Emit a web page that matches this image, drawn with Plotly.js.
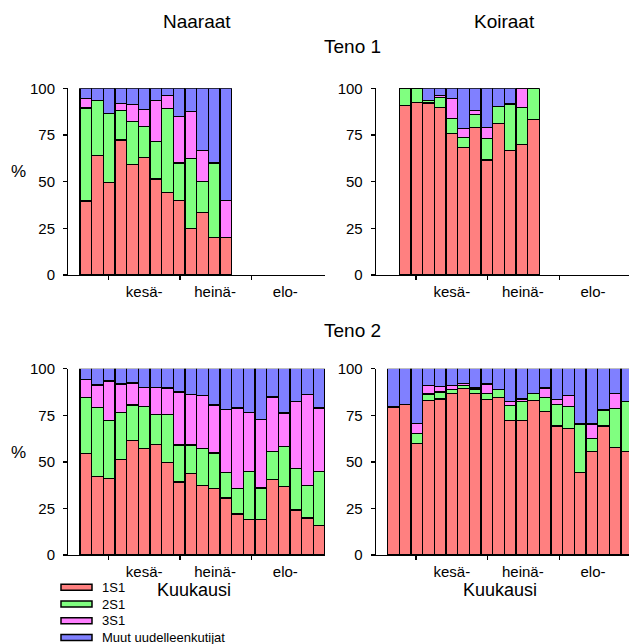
<!DOCTYPE html>
<html>
<head>
<meta charset="utf-8">
<script src="https://cdn.plot.ly/plotly-3.0.1.min.js"></script>
<style>
  html, body { margin: 0; padding: 0; background: #ffffff; }
  #chart { width: 629px; height: 644px; }
</style>
</head>
<body>
<div id="chart"></div>
<script>
// Five-day sampling periods (period number = position on the time axis)
const periodsTeno1Naaraat = [1, 2, 3, 4, 5, 6, 7, 8, 9, 10, 11, 12, 13];
const periodsTeno1Koiraat = [2, 3, 4, 5, 6, 7, 8, 9, 10, 11, 12, 13];
const periodsTeno2 = [1, 2, 3, 4, 5, 6, 7, 8, 9, 10, 11, 12, 13, 14, 15, 16, 17, 18, 19, 20, 21];

// Month boundaries (tick marks) and month labels (placed mid-month)
const monthStarts = [2.92, 9.06, 15.21];
const monthMids = [6.0, 12.08, 18.1];
const monthLabels = ['kesä-', 'heinä-', 'elo-'];

const seriesNames = ['1S1', '2S1', '3S1', 'Muut uudelleenkutijat'];
const seriesColors = ['#ff8080', '#80ff80', '#ff80ff', '#8080ff'];

// Teno 1, naaraat (%)
const t1n_1S1  = [39.6, 64.1, 49.6, 72.3, 59.3, 63.0, 51.4, 44.3, 40.0, 25.0, 33.3, 20.0, 20.0];
const t1n_2S1  = [49.9, 29.5, 37.0, 15.6, 22.8, 16.5, 20.2, 45.0, 20.0, 37.5, 16.7, 40.0, 0];
const t1n_3S1  = [5.1, 0, 0, 4.1, 9.3, 9.3, 22.0, 6.9, 25.0, 25.0, 16.7, 0, 20.0];
const t1n_muut = [5.4, 6.4, 13.4, 8.0, 8.6, 11.2, 6.4, 3.8, 15.0, 12.5, 33.3, 40.0, 60.0];

// Teno 1, koiraat (%)
const t1k_1S1  = [90.6, 92.6, 92.1, 89.8, 76.0, 68.5, 78.9, 61.6, 81.0, 66.5, 69.7, 83.2];
const t1k_2S1  = [9.4, 7.4, 1.4, 5.2, 8.0, 5.1, 6.9, 11.7, 9.1, 25.1, 19.9, 16.8];
const t1k_3S1  = [0, 0, 0, 1.1, 10.6, 4.7, 2.2, 5.9, 0, 0, 10.4, 0];
const t1k_muut = [0, 0, 6.5, 3.9, 5.4, 21.7, 12.0, 20.8, 9.9, 8.4, 0, 0];

// Teno 2, naaraat (%)
const t2n_1S1  = [54.3, 42.3, 41.2, 51.4, 61.3, 57.3, 59.5, 49.6, 39.2, 43.9, 37.5, 35.8, 30.6, 22.0, 19.2, 19.2, 40.7, 36.6, 24.2, 19.9, 15.9];
const t2n_2S1  = [30.3, 36.9, 30.8, 25.1, 19.2, 22.6, 16.1, 26.0, 19.8, 15.1, 19.8, 19.0, 13.8, 13.8, 25.8, 16.8, 14.7, 21.6, 22.4, 17.4, 29.1];
const t2n_3S1  = [9.8, 12.0, 21.4, 15.3, 11.8, 10.2, 14.5, 14.0, 28.5, 27.2, 28.2, 25.7, 33.6, 43.1, 31.7, 36.8, 29.4, 18.0, 36.0, 48.9, 33.9];
const t2n_muut = [5.6, 8.8, 6.6, 8.2, 7.7, 9.9, 9.9, 10.4, 12.5, 13.8, 14.5, 19.5, 22.0, 21.1, 23.3, 27.2, 15.2, 23.8, 17.4, 13.8, 21.1];

// Teno 2, koiraat (%)
const t2k_1S1  = [79.4, 80.6, 60.0, 83.0, 83.7, 86.9, 89.2, 86.6, 83.3, 84.4, 72.4, 72.4, 83.0, 77.2, 69.2, 68.1, 44.4, 55.7, 69.2, 57.9, 55.7];
const t2k_2S1  = [0, 0, 5.2, 3.4, 3.8, 1.8, 1.7, 2.1, 3.6, 4.5, 7.7, 9.9, 3.9, 7.4, 11.8, 11.8, 25.9, 7.0, 8.6, 20.8, 26.6];
const t2k_3S1  = [0, 0, 5.4, 4.5, 3.0, 2.2, 1.1, 0.9, 4.9, 0, 2.3, 1.4, 0, 5.0, 2.3, 5.9, 0, 7.6, 0, 8.2, 0];
const t2k_muut = [20.6, 19.4, 29.4, 9.1, 9.5, 9.1, 8.0, 10.4, 8.2, 11.1, 17.6, 16.3, 13.1, 10.4, 16.7, 14.2, 29.7, 29.7, 22.2, 13.1, 17.7];

const W = 629, H = 644;
const px = x => x / W;
const py = y => 1 - y / H;
const FONT = 'Liberation Sans, Arial, Helvetica, sans-serif';

const panels = [
  { xa: 'x',  ya: 'y',  periods: periodsTeno1Naaraat, series: [t1n_1S1, t1n_2S1, t1n_3S1, t1n_muut] },
  { xa: 'x2', ya: 'y2', periods: periodsTeno1Koiraat, series: [t1k_1S1, t1k_2S1, t1k_3S1, t1k_muut] },
  { xa: 'x3', ya: 'y3', periods: periodsTeno2,        series: [t2n_1S1, t2n_2S1, t2n_3S1, t2n_muut] },
  { xa: 'x4', ya: 'y4', periods: periodsTeno2,        series: [t2k_1S1, t2k_2S1, t2k_3S1, t2k_muut] }
];

const traces = [];
panels.forEach(p => {
  p.series.forEach((vals, i) => {
    traces.push({
      type: 'bar',
      x: p.periods,
      y: vals,
      name: seriesNames[i],
      xaxis: p.xa,
      yaxis: p.ya,
      showlegend: false,
      marker: { color: seriesColors[i], line: { color: '#000000', width: 1.2 } },
      hoverinfo: 'x+y+name'
    });
  });
});

// plot areas in pixels
const leftX = [68.3, 325];
const rightX0 = 376;
const slot = (leftX[1] - leftX[0]) / 22;
const topY = [88.3, 275];
const botY = [368.7, 555];

function xAxis(domain, range, anchor) {
  return {
    domain: domain, range: range, anchor: anchor,
    tickmode: 'array', tickvals: monthMids, ticktext: monthLabels,
    ticks: '', showgrid: false, zeroline: false,
    showline: true, linecolor: '#000000', linewidth: 1.3,
    tickfont: { family: FONT, size: 15, color: '#000000' },
    ticklabelstandoff: 3,
    minor: { tickmode: 'array', tickvals: monthStarts, ticks: 'outside', ticklen: 4, tickwidth: 1.3, tickcolor: '#000000', showgrid: false },
    fixedrange: true
  };
}
function yAxis(domain, anchor) {
  return {
    domain: domain, range: [0, 100], anchor: anchor,
    tickmode: 'array', tickvals: [0, 25, 50, 75, 100],
    ticks: 'outside', ticklen: 4, tickwidth: 1.3, tickcolor: '#000000',
    showgrid: false, zeroline: false,
    showline: true, linecolor: '#000000', linewidth: 1.3,
    tickfont: { family: FONT, size: 15, color: '#000000' },
    ticklabelstandoff: 5,
    fixedrange: true
  };
}

const xRangeLeft = [-0.5, 21.5];
const xRangeRight = [-0.5, -0.5 + (W - rightX0) / slot];

const annotations = [];
function label(text, x, y, size, anchor) {
  annotations.push({
    text: text, xref: 'paper', yref: 'paper', x: px(x), y: py(y),
    xanchor: anchor || 'center', yanchor: 'middle', showarrow: false,
    font: { family: FONT, size: size, color: '#000000' }
  });
}
label('Naaraat', 197, 21.5, 19);
label('Koiraat', 504, 21.5, 19);
label('Teno 1', 352, 46.5, 19);
label('Teno 2', 352, 330, 19);
label('%', 18.5, 172, 17);
label('%', 18.5, 452, 17);
label('Kuukausi', 194, 590, 18);
label('Kuukausi', 500, 590, 18);

// legend drawn as swatches with labels underneath the lower-left panel
const shapes = [];
const legendRows = [587.3, 604, 620.8, 637.6];
seriesNames.forEach((name, i) => {
  shapes.push({
    type: 'rect', xref: 'paper', yref: 'paper',
    x0: px(61), x1: px(92), y0: py(legendRows[i] + 3), y1: py(legendRows[i] - 3),
    fillcolor: seriesColors[i], line: { color: '#000000', width: 1.5 }
  });
  label(name, 100, legendRows[i], 13, 'left');
});

const layout = {
  width: W, height: H,
  margin: { l: 0, r: 0, t: 0, b: 0, pad: 0 },
  paper_bgcolor: '#ffffff', plot_bgcolor: '#ffffff',
  barmode: 'stack', bargap: 0,
  showlegend: false,
  font: { family: FONT, color: '#000000' },
  xaxis:  xAxis([px(leftX[0]), px(leftX[1])], xRangeLeft, 'y'),
  yaxis:  yAxis([py(topY[1]), py(topY[0])], 'x'),
  xaxis2: xAxis([px(rightX0), 1], xRangeRight, 'y2'),
  yaxis2: yAxis([py(topY[1]), py(topY[0])], 'x2'),
  xaxis3: xAxis([px(leftX[0]), px(leftX[1])], xRangeLeft, 'y3'),
  yaxis3: yAxis([py(botY[1]), py(botY[0])], 'x3'),
  xaxis4: xAxis([px(rightX0), 1], xRangeRight, 'y4'),
  yaxis4: yAxis([py(botY[1]), py(botY[0])], 'x4'),
  annotations: annotations,
  shapes: shapes
};

Plotly.newPlot('chart', traces, layout, { displayModeBar: false, staticPlot: true });
</script>
</body>
</html>
